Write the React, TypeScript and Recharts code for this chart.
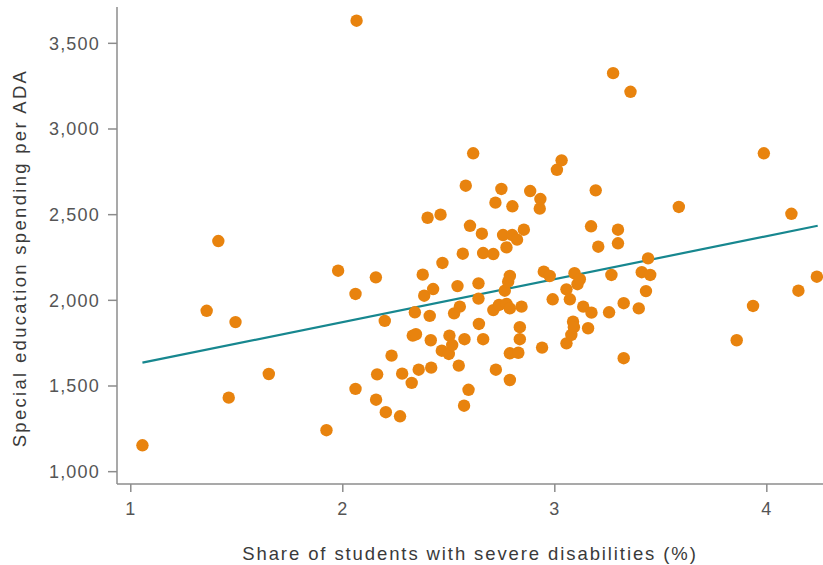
import { ScatterChart, Scatter, XAxis, YAxis, ReferenceLine, Label } from "recharts";

// share of students with severe disabilities (%)
const shareSevere = [
  1.055, 1.358, 1.413, 1.462, 1.494, 1.651, 1.923, 1.978, 2.06, 2.06,
  2.065, 2.156, 2.157, 2.162, 2.198, 2.203, 2.23, 2.27, 2.28, 2.325,
  2.33, 2.34, 2.345, 2.358, 2.377, 2.384, 2.4, 2.41, 2.415, 2.417,
  2.426, 2.461, 2.467, 2.47, 2.5, 2.503, 2.516, 2.525, 2.541, 2.547,
  2.552, 2.566, 2.572, 2.574, 2.58, 2.593, 2.6, 2.615, 2.64, 2.64,
  2.642, 2.656, 2.662, 2.662, 2.71, 2.71, 2.72, 2.722, 2.737, 2.748,
  2.756, 2.764, 2.772, 2.772, 2.78, 2.788, 2.788, 2.788, 2.788, 2.799,
  2.8, 2.822, 2.828, 2.835, 2.835, 2.843, 2.854, 2.884, 2.929, 2.932,
  2.94, 2.948, 2.976, 2.99, 3.01, 3.032, 3.055, 3.055, 3.071, 3.078,
  3.086, 3.09, 3.093, 3.107, 3.118, 3.134, 3.157, 3.171, 3.173, 3.193,
  3.205, 3.256, 3.267, 3.275, 3.298, 3.298, 3.325, 3.325, 3.357, 3.396,
  3.41, 3.43, 3.44, 3.45, 3.585, 3.858, 3.935, 3.986, 4.116, 4.149,
  4.236,
];

// special education spending per ADA ($)
const spendingPerAda = [
  1154, 1939, 2346, 1432, 1873, 1570, 1242, 2173, 2037, 1483,
  3632, 2134, 1420, 1568, 1880, 1347, 1677, 1323, 1572, 1518,
  1794, 1930, 1802, 1595, 2150, 2027, 2482, 1909, 1767, 1607,
  2066, 2500, 1706, 2218, 1687, 1794, 1739, 1924, 2083, 1619,
  1963, 2272, 1385, 1773, 2669, 1478, 2435, 2858, 2099, 2010,
  1862, 2389, 2276, 1773, 2270, 1943, 2570, 1595, 1973, 2650,
  2381, 2056, 2309, 1979, 2109, 2142, 1953, 1691, 1535, 2381,
  2549, 2354, 1694, 1843, 1773, 1963, 2412, 2638, 2535, 2591,
  1724, 2167, 2142, 2006, 2762, 2817, 2064, 1749, 2006, 1798,
  1875, 1843, 2158, 2094, 2123, 1963, 1837, 2432, 1928, 2642,
  2313, 1930, 2148, 3326, 2412, 2333, 1983, 1662, 3217, 1953,
  2164, 2054, 2245, 2148, 2545, 1767, 1967, 2858, 2505, 2056,
  2138,
];

// fitted trend line end points
const trendX = [1.055, 4.24];
const trendY = [1636, 2435];

const xTicks = [1, 2, 3, 4];
const yTicks = [1000, 1500, 2000, 2500, 3000, 3500];

const points = shareSevere.map((x, i) => ({ x, y: spendingPerAda[i] }));

const font = "'Liberation Sans', Arial, sans-serif";
const tickStyle = { fill: "#555", fontSize: 18, fontFamily: font, letterSpacing: 1.2 };

const YTitle = () => (
  <text
    x={19}
    y={258}
    transform="rotate(-90, 19, 258)"
    textAnchor="middle"
    dominantBaseline="central"
    style={{ fill: "#3a3a3a", fontSize: 18.5, fontFamily: font, letterSpacing: 2.3, fontWeight: 500 }}
  >
    Special education spending per ADA
  </text>
);

export default function App() {
  return (
    <div style={{ position: "absolute", left: 0, top: 0, width: 823, height: 565, background: "#fff" }}>
      <ScatterChart width={823} height={565} margin={{ top: 7, right: 0, left: 0, bottom: 0 }}>
        <XAxis
          type="number"
          dataKey="x"
          domain={[0.935, 4.265]}
          ticks={xTicks}
          allowDataOverflow
          height={81}
          stroke="#8c8c8c"
          strokeWidth={1.5}
          tickSize={8}
          tick={tickStyle}
          tickMargin={10}
        >
          <Label
            value="Share of students with severe disabilities (%)"
            position="insideBottom"
            offset={5}
            style={{ fill: "#3a3a3a", fontSize: 18.5, fontFamily: font, letterSpacing: 1.9 }}
          />
        </XAxis>
        <YAxis
          type="number"
          dataKey="y"
          domain={[928, 3712]}
          ticks={yTicks}
          allowDataOverflow
          width={117}
          stroke="#8c8c8c"
          strokeWidth={1.5}
          tickSize={9}
          tick={tickStyle}
          tickMargin={8}
          tickFormatter={(v: number) => v.toLocaleString("en-US")}
        >
          <Label content={<YTitle />} />
        </YAxis>
        <Scatter data={points} fill="#E8830E" isAnimationActive={false} shape={(p: any) => <circle cx={p.cx} cy={p.cy} r={6.2} fill="#E8830E" />} />
        <ReferenceLine
          segment={[
            { x: trendX[0], y: trendY[0] },
            { x: trendX[1], y: trendY[1] },
          ]}
          stroke="#17878F"
          strokeWidth={2.2}
          ifOverflow="visible"
        />
      </ScatterChart>
    </div>
  );
}
